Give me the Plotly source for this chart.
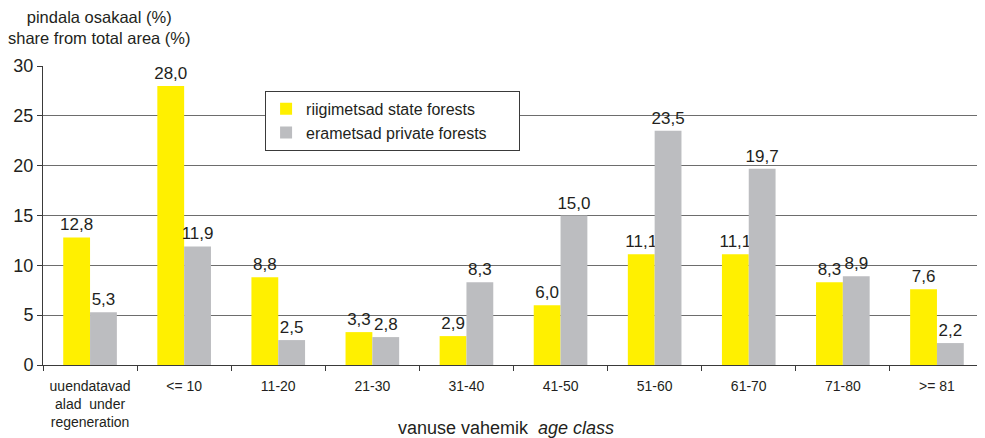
import plotly.graph_objects as go

categories = ["uuendatavad<br>alad  under<br>regeneration", "<= 10", "11-20", "21-30", "31-40",
              "41-50", "51-60", "61-70", "71-80", ">= 81"]
state = [12.8, 28.0, 8.8, 3.3, 2.9, 6.0, 11.1, 11.1, 8.3, 7.6]
private = [5.3, 11.9, 2.5, 2.8, 8.3, 15.0, 23.5, 19.7, 8.9, 2.2]
yticks = [0, 5, 10, 15, 20, 25, 30]

FONT = "Liberation Sans, Arial, sans-serif"
INK = "#231F20"
NB = "\u00a0"

def fmt(v):
    return f"{v:.1f}".replace(".", ",")

fig = go.Figure()
fig.add_trace(go.Bar(x=categories, y=state, name="riigimetsad state forests" + NB * 6,
                     marker=dict(color="#FFF000", line=dict(width=0)),
                     text=[fmt(v) for v in state], textposition="outside", constraintext="none",
                     textfont=dict(size=17, color=INK, family=FONT), cliponaxis=False))
fig.add_trace(go.Bar(x=categories, y=private, name="erametsad private forests" + NB * 6,
                     marker=dict(color="#BCBDC0", line=dict(width=0)),
                     text=[fmt(v) for v in private], textposition="outside", constraintext="none",
                     textfont=dict(size=17, color=INK, family=FONT), cliponaxis=False))

fig.update_layout(
    width=977, height=430,
    margin=dict(l=35, r=1, t=58, b=73),
    paper_bgcolor="white", plot_bgcolor="white",
    font=dict(family=FONT, color=INK),
    barmode="group", bargap=0.43, bargroupgap=0,
    showlegend=True,
    legend=dict(x=0.236, y=0.917, xanchor="left", yanchor="top",
                bgcolor="white", bordercolor="#3a3a3a", borderwidth=1,
                font=dict(size=16, family=FONT, color=INK),
                itemwidth=30, tracegroupgap=0),
    xaxis=dict(type="category", showline=True, linecolor="#3a3a3a", linewidth=1,
               ticks="outside", tickson="boundaries", ticklen=5, tickcolor="#3a3a3a",
               ticklabelstandoff=8,
               tickfont=dict(size=14, family=FONT, color=INK),
               showgrid=False, range=[-0.5, 9.5]),
    yaxis=dict(range=[0, 30], tickvals=yticks, showline=True, linecolor="#3a3a3a", linewidth=1,
               ticks="outside", ticklen=5, tickcolor="#3a3a3a",
               tickfont=dict(size=18, family=FONT, color=INK),
               showgrid=True, gridcolor="#6d6d6d", gridwidth=1, zeroline=False),
    annotations=[
        dict(text="pindala osakaal (%)<br>share from total area (%)", xref="paper", yref="paper",
             x=-0.039, y=1.2, xanchor="left", yanchor="top", showarrow=False, align="center",
             font=dict(size=16.5, family=FONT, color=INK)),
        dict(text="vanuse vahemik  <i>age class</i>", xref="paper", yref="paper",
             x=0.492, y=-0.17, xanchor="center", yanchor="top", showarrow=False,
             font=dict(size=18, family=FONT, color=INK)),
    ],
)

fig.write_html("out.html")
